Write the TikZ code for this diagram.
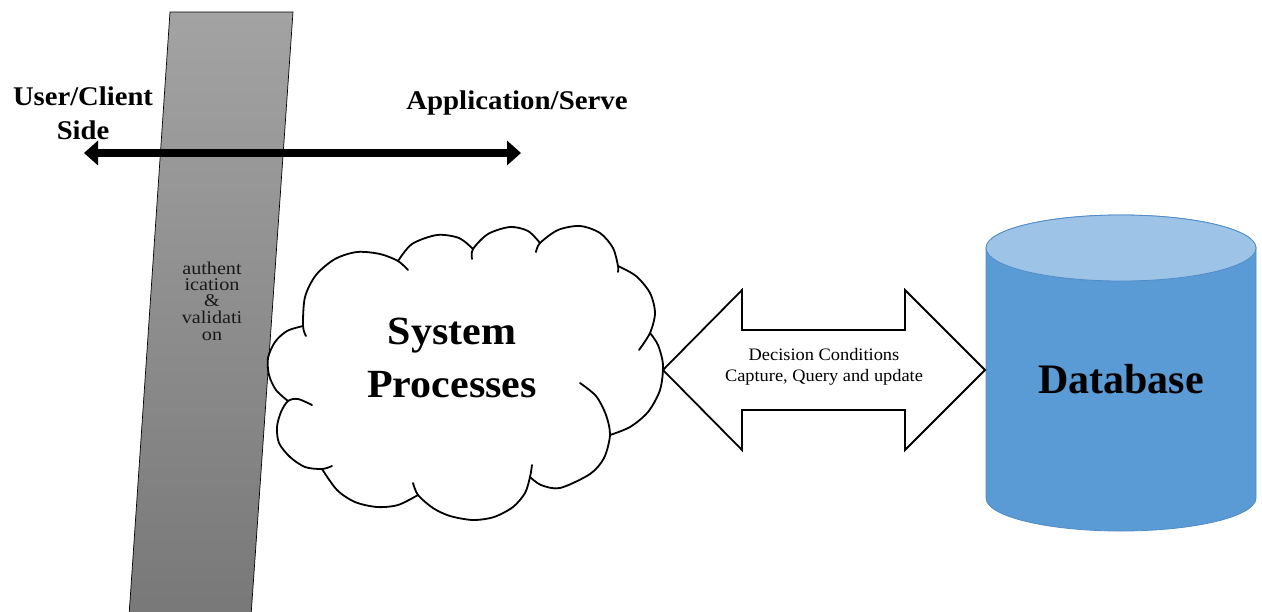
\documentclass[tikz,border=0pt]{standalone}
\usepackage{fontspec}
\usepackage{graphicx}
\setmainfont{Liberation Serif}
\usetikzlibrary{arrows.meta,calc}
\definecolor{barTop}{RGB}{163,163,163}
\definecolor{barBot}{RGB}{120,120,120}
\definecolor{barText}{RGB}{25,25,25}
\definecolor{dbBody}{RGB}{91,155,213}
\definecolor{dbTop}{RGB}{157,195,230}
\definecolor{dbLine}{RGB}{80,140,200}
\newcommand\hstr[2]{\scalebox{#1}[1]{#2}}
\begin{document}
\begin{tikzpicture}[x=1pt,y=-1pt,
  txt/.style={inner sep=0pt, anchor=base},
  sidetxt/.style={txt, font=\bfseries\fontsize{27}{33}\selectfont},
  bartxt/.style={txt, font=\fontsize{18}{16}\selectfont, text=barText},
  cloudtxt/.style={txt, font=\bfseries\fontsize{40}{53}\selectfont},
  arrtxt/.style={txt, font=\fontsize{17.5}{21}\selectfont},
  dbtxt/.style={txt, font=\bfseries\fontsize{42}{50}\selectfont},
  lobe/.style={draw=black, line width=1.8pt, line cap=round},
  barshape/.style={top color=barTop, bottom color=barBot, draw=black, line width=0.7pt},
  thickarrow/.style={line width=8pt, {Triangle[length=14pt,width=24pt]}-{Triangle[length=14pt,width=24pt]}},
  blockarrow/.style={draw=black, fill=white, line width=1.8pt, line join=miter},
  dbbody/.style={fill=dbBody, draw=dbLine, line width=0.8pt},
  dbtop/.style={fill=dbTop, draw=dbLine, line width=0.8pt}
]
\useasboundingbox (0,0) rectangle (1262,611);
\fill[white] (0,0) rectangle (1262,611);

% slanted boundary bar
\path[barshape] (170,12) -- (293,12) -- (251,616) -- (129,616) -- cycle;
\node[bartxt] (b1) at (212,274) {\hstr{1.12}{authent}};
\node[bartxt] (b2) at (212,290) {\hstr{1.12}{ication}};
\node[bartxt] (b3) at (212,306) {\hstr{1.12}{\&}};
\node[bartxt] (b4) at (212,323) {\hstr{1.12}{validati}};
\node[bartxt] (b5) at (212,340) {\hstr{1.12}{on}};

% side labels and thick double arrow
\node[sidetxt] (uc1) at (83,105) {\hstr{1.06}{User/Client}};
\node[sidetxt] (uc2) at (83,139) {\hstr{1.06}{Side}};
\node[sidetxt] (app) at (517,109) {\hstr{1.07}{Application/Serve}};
\coordinate (aL) at (84,153);
\coordinate (aR) at (521,153);
\draw[thickarrow] (aL) -- (aR);

% cloud
\fill[white]
 plot[smooth] coordinates {(288,401) (276,390) (269,375) (268,358) (275,342) (287,331) (303,326)}
 -- plot[smooth] coordinates {(303,326) (305,297) (316,275) (335,259) (357,252) (380,254) (398,261)}
 -- plot[smooth] coordinates {(398,261) (412,244) (437,235) (459,238) (473,249)}
 -- plot[smooth] coordinates {(473,249) (488,234) (510,227) (528,231) (540,243)}
 -- plot[smooth] coordinates {(540,243) (558,230) (580,226) (600,233) (613,248) (618,266)}
 -- plot[smooth] coordinates {(618,266) (636,276) (650,293) (655,313) (650,333)}
 -- plot[smooth] coordinates {(650,333) (658,345) (663,365) (660,390) (648,412) (630,427) (610,435)}
 -- plot[smooth] coordinates {(610,435) (604,458) (590,474) (560,488) (541,485) (530,477)}
 -- plot[smooth] coordinates {(530,477) (525,493) (513,507) (494,517) (473,520) (450,516) (433,508) (418,495)}
 -- plot[smooth] coordinates {(418,495) (398,505) (377,507) (355,502) (337,490) (322,469)}
 -- plot[smooth] coordinates {(322,469) (305,467) (290,457) (279,443) (277,427) (281,412) (288,401)}
 -- cycle;
\draw[lobe] plot[smooth] coordinates {(306,336) (303,326) (305,297) (316,275) (335,259) (357,252) (380,254) (398,261) (408,270)};
\draw[lobe] plot[smooth] coordinates {(398,261) (412,244) (437,235) (459,238) (473,249)};
\draw[lobe] plot[smooth] coordinates {(472,259) (473,249) (488,234) (510,227) (528,231) (540,243)};
\draw[lobe] plot[smooth] coordinates {(536,252) (540,243) (558,230) (580,226) (600,233) (613,248) (618,266) (618,272)};
\draw[lobe] plot[smooth] coordinates {(618,266) (636,276) (650,293) (655,313) (650,333) (639,350)};
\draw[lobe] plot[smooth] coordinates {(650,333) (658,345) (663,365) (660,390) (648,412) (630,427) (610,435)};
\draw[lobe] plot[smooth] coordinates {(580,383) (596,396) (606,415) (610,435) (604,458) (590,474) (560,488) (541,485) (530,477)};
\draw[lobe] plot[smooth] coordinates {(532,465) (530,477) (525,493) (513,507) (494,517) (473,520) (450,516) (433,508) (418,495) (413,483)};
\draw[lobe] plot[smooth] coordinates {(418,495) (398,505) (377,507) (355,502) (337,490) (322,469)};
\draw[lobe] plot[smooth] coordinates {(332,466) (322,469) (305,467) (290,457) (279,443) (277,427) (281,412) (288,401) (298,399) (312,405)};
\draw[lobe] plot[smooth] coordinates {(288,401) (276,390) (269,375) (268,358) (275,342) (287,331) (303,326)};
\node[cloudtxt] (sp1) at (452,344) {\hstr{1.05}{System}};
\node[cloudtxt] (sp2) at (452,397) {\hstr{1.05}{Processes}};

% database cylinder
\coordinate (dbW) at (986,370);
\path[dbbody] (986,248) -- (986,498) arc[start angle=180, end angle=360, x radius=135pt, y radius=33pt]
  -- (1256,248) arc[start angle=0, end angle=180, x radius=135pt, y radius=33pt] -- cycle;
\path[dbtop] (1121,248) ellipse [x radius=135pt, y radius=33pt];
\node[dbtxt] (db) at (1121,393) {Database};

% block double arrow between cloud and database
\coordinate (cloudE) at (663,370);
\draw[blockarrow] (cloudE) -- ++(79,-80) -- ++(0,40) -- ++(163,0) -- ++(0,-40) -- ($(dbW)+(-1,0)$)
  -- ++(-80,80) -- ++(0,-40) -- ++(-163,0) -- ++(0,40) -- cycle;
\node[arrtxt] (dc1) at (824,360) {\hstr{1.05}{Decision Conditions}};
\node[arrtxt] (dc2) at (824,381) {\hstr{1.05}{Capture, Query and update}};
\end{tikzpicture}
\end{document}
